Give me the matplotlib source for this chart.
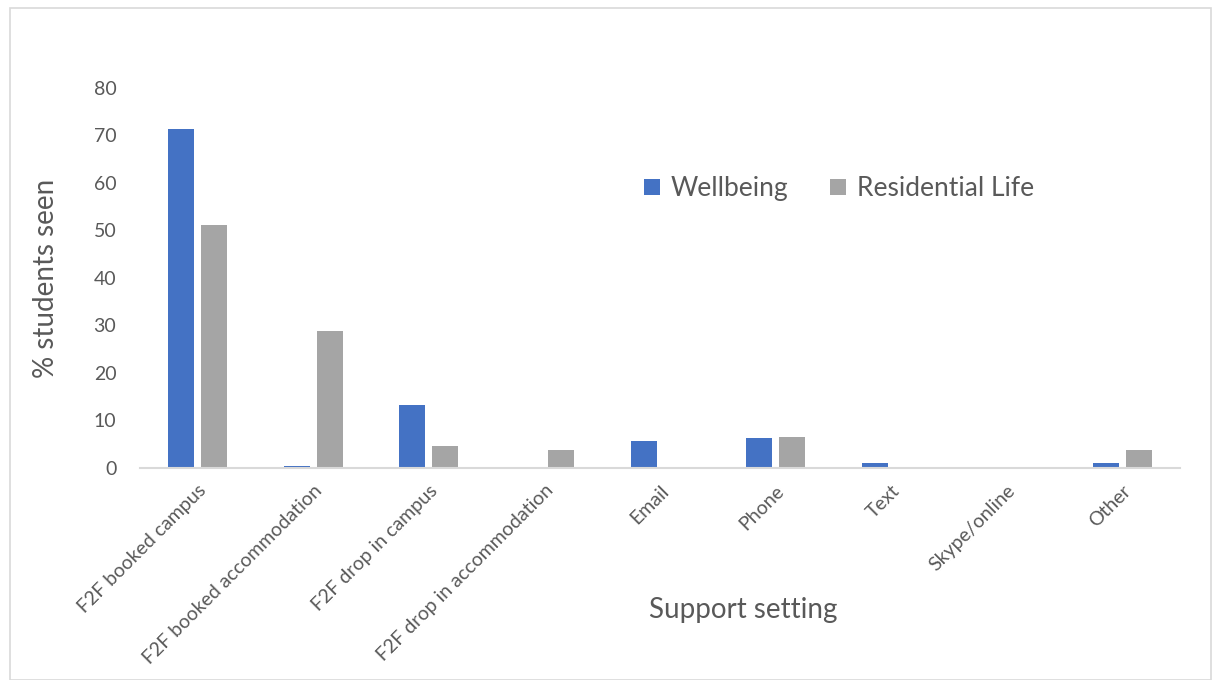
import matplotlib.pyplot as plt
import numpy as np
from matplotlib.patches import Rectangle

categories = ['F2F booked campus', 'F2F booked accommodation', 'F2F drop in campus',
              'F2F drop in accommodation', 'Email', 'Phone', 'Text', 'Skype/online', 'Other']
wellbeing = [71.3, 0.5, 13.2, 0, 5.7, 6.3, 1.0, 0, 1.0]
residential = [51.2, 28.9, 4.7, 3.7, 0, 6.6, 0, 0, 3.8]

plt.rcParams['font.family'] = ['Lato', 'DejaVu Sans']
text_color = '#595959'

fig = plt.figure(figsize=(12.13, 6.8), dpi=100)
ax = fig.add_axes([0.1154, 0.3118, 0.8574, 0.5588])

x = np.arange(len(categories))
w = 0.225
ax.bar(x - w / 2 - 0.03, wellbeing, w, color='#4472c4', label='Wellbeing')
ax.bar(x + w / 2 + 0.03, residential, w, color='#a5a5a5', label='Residential Life')

ax.set_xlim(-0.5, len(categories) - 0.5)
ax.set_ylim(0, 80)
ax.set_yticks(range(0, 81, 10))
ax.set_xticks(x)
ax.set_xticklabels(categories, rotation=45, ha='right', rotation_mode='anchor')
ax.tick_params(axis='both', length=0, labelsize=14, colors=text_color)
ax.tick_params(axis='y', pad=17)
ax.tick_params(axis='x', pad=10)

for side in ['top', 'right', 'left']:
    ax.spines[side].set_visible(False)
ax.spines['bottom'].set_color('#d9d9d9')
ax.spines['bottom'].set_linewidth(1.5)

ax.set_ylabel('% students seen', fontsize=20, color=text_color)
ax.yaxis.set_label_coords(-0.078, 0.5)
ax.set_xlabel('Support setting', fontsize=20, color=text_color)
ax.xaxis.set_label_coords(0.58, -0.34)

ax.legend(loc='upper left', bbox_to_anchor=(0.462, 0.83), ncol=2, frameon=False,
          fontsize=19, labelcolor=text_color, handlelength=0.6, handleheight=0.6,
          columnspacing=1.6, handletextpad=0.4)

# light border around the whole chart
fig.patches.append(Rectangle((0.008, 0.0), 0.99, 0.988, transform=fig.transFigure,
                             fill=False, edgecolor='#d9d9d9', linewidth=1.2))

fig.savefig('out.png', dpi=100)
